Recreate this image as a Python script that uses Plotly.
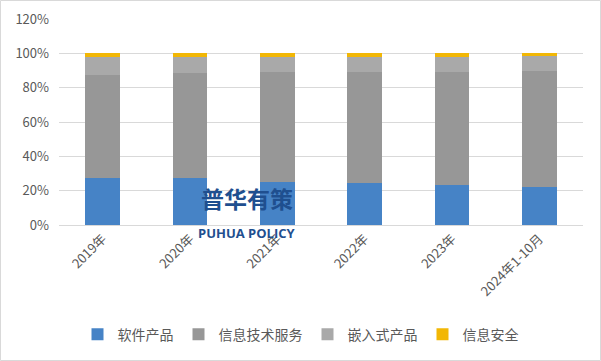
import plotly.graph_objects as go

categories = ["2019年", "2020年", "2021年", "2022年", "2023年", "2024年1-10月"]
software = [27.5, 27.5, 25.2, 24.6, 23.5, 22.3]
it_service = [59.9, 61.0, 64.1, 64.7, 65.8, 67.6]
embedded = [10.4, 9.2, 8.4, 8.5, 8.4, 8.7]
security = [2.2, 2.3, 2.3, 2.2, 2.3, 1.4]

series = [
    ("软件产品", software, "#4683c6"),
    ("信息技术服务", it_service, "#979797"),
    ("嵌入式产品", embedded, "#a9a9a9"),
    ("信息安全", security, "#f2b705"),
]

fig = go.Figure()
for name, vals, color in series:
    fig.add_trace(go.Bar(
        x=categories, y=[v / 100 for v in vals], name=name,
        marker=dict(color=color, line=dict(width=0)),
    ))

font = "Noto Sans CJK SC, Liberation Sans, sans-serif"
fig.update_layout(
    barmode="stack",
    bargap=0.6,
    width=601, height=361,
    margin=dict(l=59, r=18, t=19, b=136, autoexpand=False),
    paper_bgcolor="white", plot_bgcolor="white",
    font=dict(family=font, size=13, color="#595959"),
    showlegend=True,
    legend=dict(orientation="h", x=(300.5 - 59) / 524, xanchor="center", y=-0.455, yanchor="top",
                font=dict(size=14, color="#595959"), itemwidth=30,
                traceorder="normal", tracegroupgap=0),
    xaxis=dict(tickangle=-45, showgrid=False, showline=True, linecolor="#d9d9d9",
               ticks="", automargin=False, tickfont=dict(size=13, color="#595959")),
    yaxis=dict(range=[0, 1.2], dtick=0.2, tickformat=".0%", showgrid=True,
               gridcolor="#d9d9d9", gridwidth=1, zeroline=False, ticks="",
               ticklabelstandoff=9,
               automargin=False, tickfont=dict(size=13, color="#595959")),
)

fig.add_shape(type="rect", xref="paper", yref="paper",
              x0=-58.5 / 524, x1=541.5 / 524, y0=-135.5 / 206, y1=224.5 / 206,
              line=dict(color="#d9d9d9", width=1), fillcolor="rgba(0,0,0,0)", layer="below")

fig.add_annotation(text="<b>普华有策</b>", xref="paper", yref="paper",
                   x=(247 - 59) / 524, y=(225 - 217) / 206, showarrow=False,
                   font=dict(family=font, size=23, color="#1f4f8f"))
fig.add_annotation(text="<b>PUHUA POLICY</b>", xref="paper", yref="paper",
                   x=(247 - 59) / 524, y=(225 - 244) / 206, showarrow=False,
                   font=dict(family="Open Sans, sans-serif", size=13, color="#1f4f8f"))

fig.write_html("out.html", config={"displayModeBar": False},
               post_script="document.body.style.margin='0';document.body.style.padding='0';")
